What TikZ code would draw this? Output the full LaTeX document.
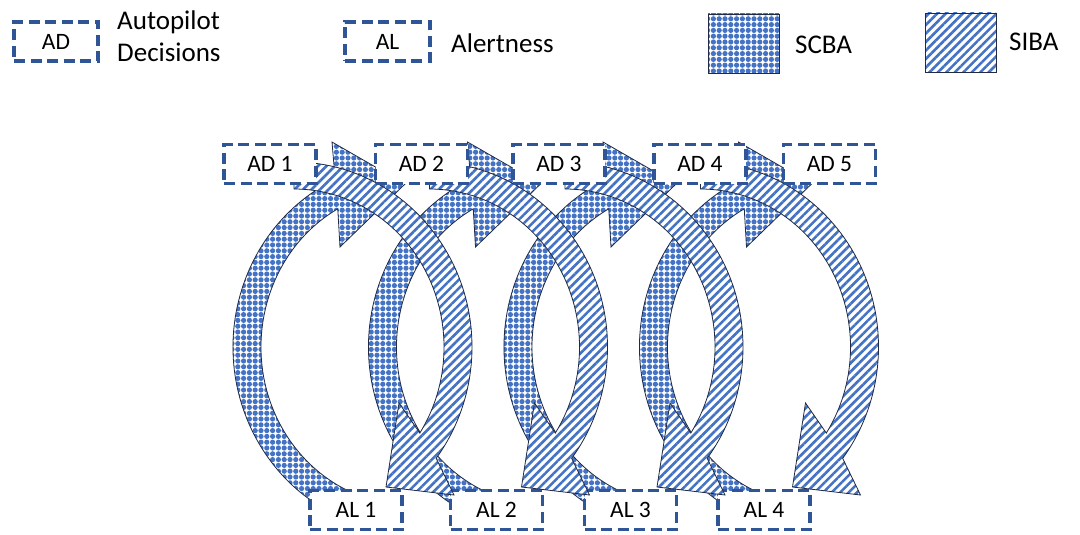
\documentclass[tikz,border=0pt]{standalone}
\usepackage{fontspec}
\setmainfont{Carlito}
\usepackage{tikz}
\usetikzlibrary{patterns.meta}

\definecolor{boxblue}{HTML}{2F5597}
\definecolor{fillblue}{HTML}{4472C4}
\definecolor{edgenavy}{HTML}{1F2A44}

\tikzset{
  tagbox/.style={draw=boxblue, line width=3.8pt, dash pattern=on 11pt off 5.5pt,
    fill=white, minimum width=92pt, minimum height=39pt, inner sep=0pt,
    font=\fontsize{23.5}{28}\selectfont},
  scba/.style={draw=edgenavy, line width=0.8pt, preaction={fill=white},
    pattern={Dots[radius=2.6pt, distance=5.8pt]}, pattern color=fillblue},
  siba/.style={draw=edgenavy, line width=0.8pt, preaction={fill=white},
    pattern={Lines[angle=45, distance=6pt, line width=2.6pt]}, pattern color=fillblue},
  legendtext/.style={font=\fontsize{27}{32}\selectfont, align=left, anchor=west, inner sep=0pt}
}

\begin{document}
\begin{tikzpicture}[x=1pt, y=-1pt]
\useasboundingbox (0,0) rectangle (1080,535);

% legend
\node[tagbox, minimum width=84pt] (keyad) at (56,41.5) {AD};
\node[legendtext] (keyadtext) at (117,36) {Autopilot\\Decisions};
\node[tagbox, minimum width=85pt] (keyal) at (387.5,41.5) {AL};
\node[legendtext] (keyaltext) at (451,43) {Alertness};
\node[scba, minimum width=71pt, minimum height=59pt] (keyscba) at (743.5,43.5) {};
\node[legendtext] (keyscbatext) at (795,45) {SCBA};
\node[siba, minimum width=71pt, minimum height=59pt] (keysiba) at (960.5,42.5) {};
\node[legendtext] (keysibatext) at (1009,42) {SIBA};

% SCBA loops, up the left side
\foreach \i in {0,...,3} {
  \begin{scope}[shift={(410+135.5*\i,347)}]
    \path[scba] (108:177 and 185) arc[start angle=108, end angle=245, x radius=177, y radius=185]
      -- (-78,-205) -- (-5,-163) -- (-70,-100)
      -- (241:149 and 158) arc[start angle=241, end angle=108, x radius=149, y radius=158] -- cycle;
  \end{scope}
}

% alertness boxes
\foreach \n/\x in {1/356, 2/496.5, 3/630.5, 4/764}
  \node[tagbox] (al\n) at (\x,510) {AL \n};

% SIBA loops, down the right side
\foreach \i in {0,...,3} {
  \begin{scope}[shift={(294+135.5*\i,347)}]
    \path[siba] (-90:178 and 185) arc[start angle=-90, end angle=37, x radius=178, y radius=185]
      -- (160,148) -- (92,140) -- (105,56)
      -- (33:150 and 158) arc[start angle=33, end angle=-90, x radius=150, y radius=158] -- cycle;
  \end{scope}
}

% decision boxes
\foreach \n/\x in {1/270, 2/421.5, 3/559, 4/700, 5/829.5}
  \node[tagbox] (ad\n) at (\x,164) {AD \n};
\end{tikzpicture}
\end{document}
